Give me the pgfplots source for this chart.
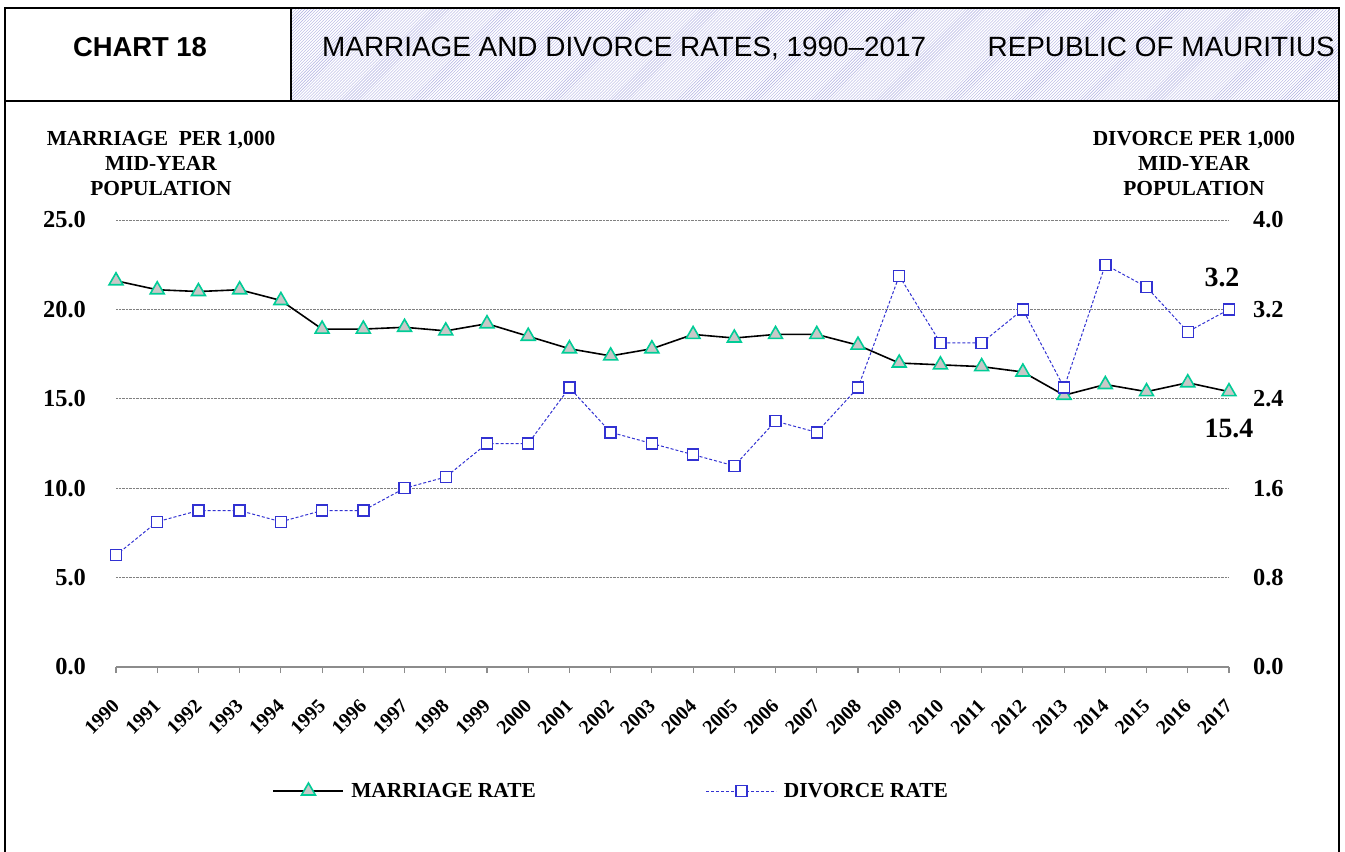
\documentclass[border=0pt]{standalone}
\usepackage{fontspec}
\setmainfont{Liberation Serif}
\newfontfamily\arial{Liberation Sans}[Ligatures=TeX]
\usepackage{pgfplots}
\pgfplotsset{compat=1.18}
\usetikzlibrary{patterns}

\definecolor{mgreen}{RGB}{0,204,150}
\definecolor{mgrey}{RGB}{200,200,200}
\definecolor{dblue}{RGB}{50,50,210}
\definecolor{hatch}{RGB}{175,175,225}
\definecolor{axgray}{RGB}{140,140,140}

\pgfplotstableread{
year marriage divorce
1990 21.6 1.0
1991 21.1 1.3
1992 21.0 1.4
1993 21.1 1.4
1994 20.5 1.3
1995 18.9 1.4
1996 18.9 1.4
1997 19.0 1.6
1998 18.8 1.7
1999 19.2 2.0
2000 18.5 2.0
2001 17.8 2.5
2002 17.4 2.1
2003 17.8 2.0
2004 18.6 1.9
2005 18.4 1.8
2006 18.6 2.2
2007 18.6 2.1
2008 18.0 2.5
2009 17.0 3.5
2010 16.9 2.9
2011 16.8 2.9
2012 16.5 3.2
2013 15.2 2.5
2014 15.8 3.6
2015 15.4 3.4
2016 15.9 3.0
2017 15.4 3.2
}\ratedata

\tikzset{
  marrstyle/.style={black, line width=1.6bp, mark=triangle*, mark size=8bp,
    mark options={solid, draw=mgreen, fill=mgrey, line width=1.6bp}},
  divstyle/.style={dblue, line width=1bp, dash pattern=on 3bp off 2bp, mark=square*, mark size=5.5bp,
    mark options={solid, draw=dblue, fill=white, line width=1.4bp}},
  ttl/.style={anchor=base, inner sep=0pt, font=\bfseries\fontsize{21.5}{24}\selectfont},
}

\begin{document}
\begin{tikzpicture}
\path[use as bounding box] (0,0) rectangle (1345bp,-852bp);
\begin{scope}[x=1bp,y=-1bp]
  \fill[pattern=north east lines, pattern color=hatch] (291,8) rectangle (1339,101);
  \draw[line width=2.5bp] (5,852) -- (5,8) -- (1339,8) -- (1339,852);
  \draw[line width=2.5bp] (5,101) -- (1339,101);
  \draw[line width=2.5bp] (291,8) -- (291,101);
  \node[anchor=base, inner sep=0pt, font=\arial\bfseries\fontsize{27.5}{30}\selectfont] at (140,56) {CHART 18};
  \node[anchor=base west, inner sep=0pt, font=\arial\fontsize{28}{30}\selectfont] at (322,56) {MARRIAGE AND DIVORCE RATES, 1990–2017};
  \node[anchor=base east, inner sep=0pt, font=\arial\fontsize{28}{30}\selectfont] at (1335,56) {REPUBLIC OF MAURITIUS};
  \node[ttl] at (161,145) {MARRIAGE\ \ PER 1,000};
  \node[ttl] at (161,170) {MID-YEAR};
  \node[ttl] at (161,195) {POPULATION};
  \node[ttl] at (1194,145) {DIVORCE PER 1,000};
  \node[ttl] at (1194,170) {MID-YEAR};
  \node[ttl] at (1194,195) {POPULATION};
  \node[inner sep=0pt, font=\bfseries\fontsize{28}{30}\selectfont] at (1222,277) {3.2};
  \node[inner sep=0pt, font=\bfseries\fontsize{28}{30}\selectfont] at (1229,428) {15.4};
\end{scope}

\begin{axis}[
  at={(116bp,-667bp)}, anchor=south west,
  scale only axis, width=1113bp, height=447bp,
  xmin=1990, xmax=2017, ymin=0, ymax=25,
  clip=false,
  axis x line*=bottom, axis y line*=left,
  y axis line style={draw=none},
  x axis line style={-, draw=axgray, line width=1.2bp},
  xtick={1990,1991,...,2017},
  ytick={0,5,10,15,20,25},
  ymajorgrids, grid style={densely dotted, draw=gray, line width=0.8bp},
  tick align=outside,
  major tick length=6bp,
  xtick style={draw=axgray, line width=1.2bp},
  ytick style={draw=none},
  /pgf/number format/assume math mode=true,
  x tick label style={font=\bfseries\fontsize{20}{21}\selectfont, rotate=45, anchor=east, inner sep=0pt, /pgf/number format/1000 sep={}},
  xticklabel shift=30bp,
  y tick label style={font=\bfseries\fontsize{24.5}{26}\selectfont, inner sep=0pt, /pgf/number format/.cd, fixed, fixed zerofill, precision=1},
  yticklabel shift=24bp,
]
\addplot[marrstyle] table[x=year, y=marriage] {\ratedata};
\end{axis}

\begin{axis}[
  at={(116bp,-667bp)}, anchor=south west,
  scale only axis, width=1113bp, height=447bp,
  xmin=1990, xmax=2017, ymin=0, ymax=4,
  clip=false,
  axis y line*=right, axis x line=none,
  y axis line style={draw=none},
  ytick style={draw=none},
  ytick={0,0.8,1.6,2.4,3.2,4.0},
  /pgf/number format/assume math mode=true,
  y tick label style={font=\bfseries\fontsize{24.5}{26}\selectfont, inner sep=0pt, /pgf/number format/.cd, fixed, fixed zerofill, precision=1},
  yticklabel shift=24bp,
  legend columns=2,
  legend style={at={(0.445,-0.2774)}, anchor=center, draw=none, fill=none,
    font=\bfseries\fontsize{21.5}{24}\selectfont,
    /tikz/every odd column/.append style={column sep=5bp},
    /tikz/every even column/.append style={column sep=168bp}},
  legend image code/.code={\draw[mark repeat=2,mark phase=2] plot coordinates {(0bp,0bp) (35bp,0bp) (70bp,0bp)};},
]
\addlegendimage{marrstyle}
\addlegendentry{MARRIAGE RATE}
\addplot[divstyle] table[x=year, y=divorce] {\ratedata};
\addlegendentry{DIVORCE RATE}
\end{axis}
\end{tikzpicture}
\end{document}
